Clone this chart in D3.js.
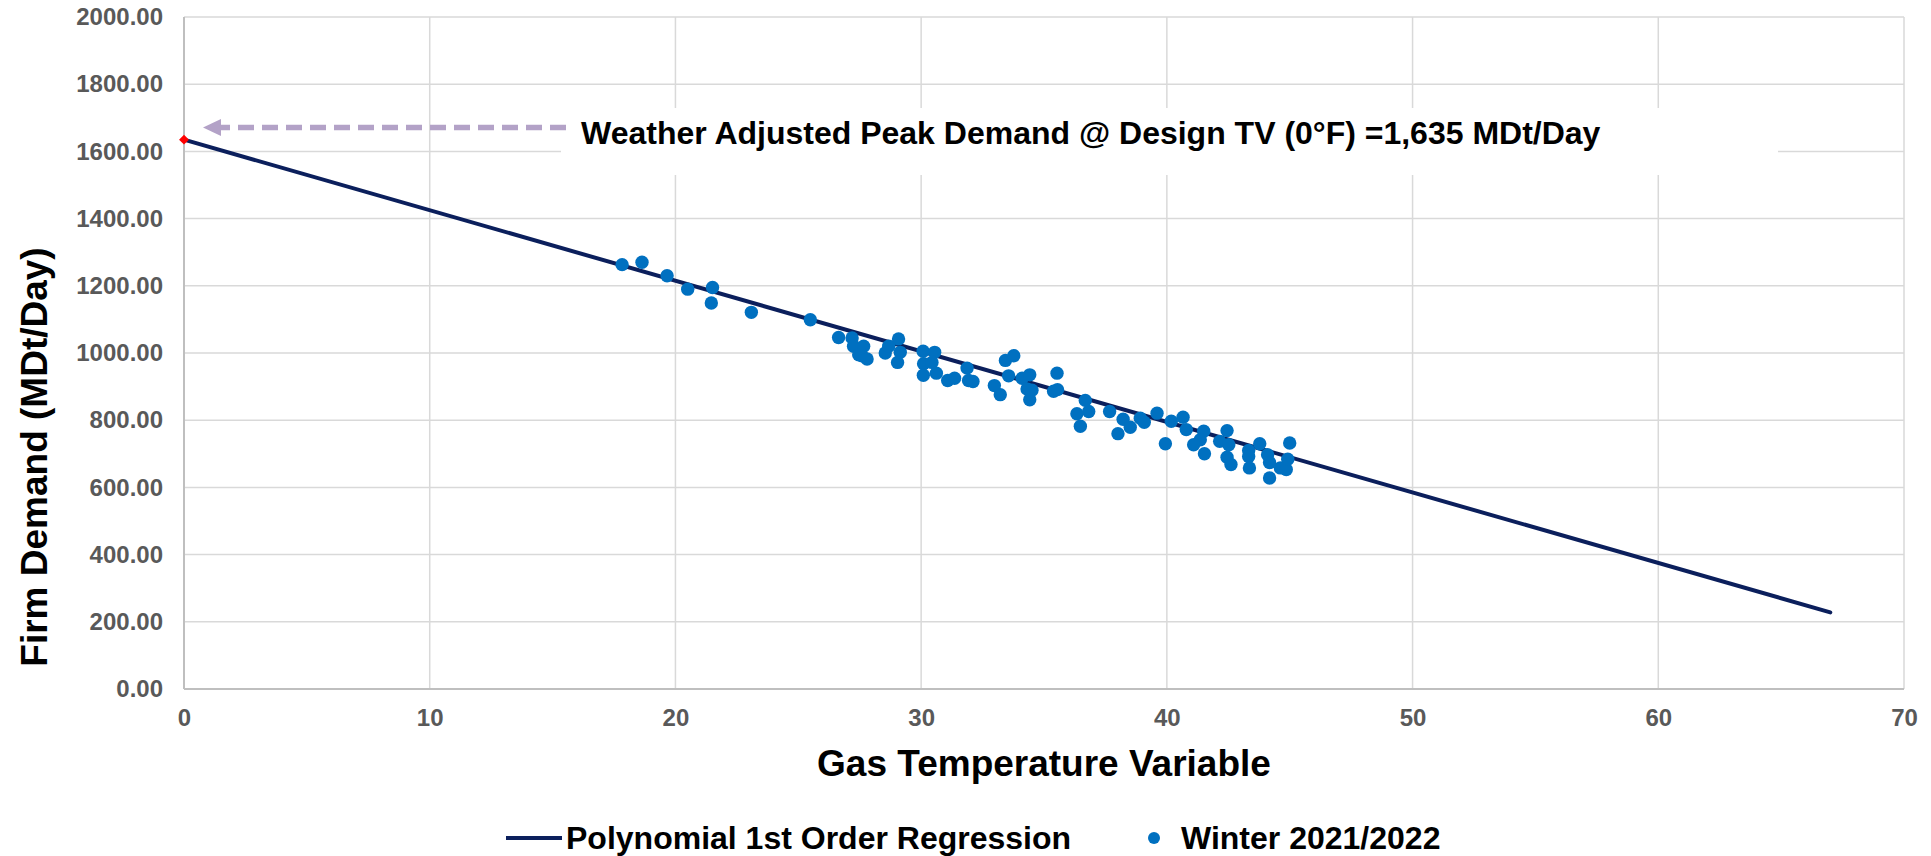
<!DOCTYPE html>
<html>
<head>
<meta charset="utf-8">
<script src="https://cdn.jsdelivr.net/npm/d3@7/dist/d3.min.js"></script>
<style>
  html, body { margin: 0; padding: 0; background: #fff; }
  text { font-family: "Liberation Sans", Arial, sans-serif; font-weight: bold; }
</style>
</head>
<body>
<svg id="chart"></svg>
<script>
// Winter 2021/2022 observations: gas temperature variable vs firm demand (MDt/Day)
var winterX = [17.83, 18.64, 19.66, 20.5, 21.51, 21.46, 23.09, 25.49, 26.64, 27.19,
  27.25, 27.46, 27.66, 27.59, 27.8, 28.54, 28.68, 29.08, 29.15, 29.04,
  30.08, 30.55, 30.1, 30.44, 30.09, 30.62, 31.08, 31.36, 31.87, 31.93,
  32.11, 32.98, 33.22, 33.43, 33.77, 33.56, 34.11, 34.42, 34.31, 34.51,
  34.42, 35.53, 35.39, 35.55, 36.68, 36.82, 36.34, 36.48, 37.67, 38.22,
  38.51, 38.01, 38.92, 39.08, 39.6, 39.94, 40.18, 40.66, 40.79, 41.5,
  41.36, 41.09, 41.53, 42.15, 42.45, 42.52, 42.45, 42.61, 43.33, 43.33,
  43.36, 43.78, 44.1, 44.18, 44.18, 44.62, 44.86, 44.92, 45.0];
var winterY = [1263, 1270, 1230, 1190, 1195, 1149, 1121, 1099, 1046, 1045,
  1020, 995, 1020, 992, 982, 1000, 1020, 1042, 1002, 972,
  1005, 1002, 968, 972, 934, 940, 918, 925, 955, 918,
  915, 903, 876, 978, 992, 932, 925, 935, 893, 889,
  861, 940, 886, 891, 859, 826, 819, 782, 826, 803,
  779, 760, 806, 794, 821, 730, 797, 809, 772, 767,
  742, 727, 700, 737, 769, 727, 690, 668, 710, 692,
  658, 730, 697, 674, 628, 658, 653, 684, 732];

// Polynomial 1st order regression end points
var trendX = [0, 67];
var trendY = [1635, 228];

var xTicks = [0, 10, 20, 30, 40, 50, 60, 70];
var yTicks = [0, 200, 400, 600, 800, 1000, 1200, 1400, 1600, 1800, 2000];

var peakValue = 1635;
var noteText = "Weather Adjusted Peak Demand @ Design TV (0\u00B0F) =1,635 MDt/Day";

var width = 1931, height = 856;
var margin = {top: 17, right: 27, bottom: 167, left: 184};

var svg = d3.select("#chart").attr("width", width).attr("height", height);

var x = d3.scaleLinear().domain([0, 70]).range([margin.left, width - margin.right]);
var y = d3.scaleLinear().domain([0, 2000]).range([height - margin.bottom, margin.top]);

// gridlines
svg.append("g")
  .selectAll("line.hg")
  .data(yTicks)
  .enter().append("line")
  .attr("x1", x(0)).attr("x2", x(70))
  .attr("y1", function(d) { return y(d); }).attr("y2", function(d) { return y(d); })
  .attr("stroke", "#d9d9d9").attr("stroke-width", 1.5);

svg.append("g")
  .selectAll("line.vg")
  .data(xTicks)
  .enter().append("line")
  .attr("x1", function(d) { return x(d); }).attr("x2", function(d) { return x(d); })
  .attr("y1", y(0)).attr("y2", y(2000))
  .attr("stroke", "#d9d9d9").attr("stroke-width", 1.5);

// axes lines
svg.append("line")
  .attr("x1", x(0)).attr("x2", x(0)).attr("y1", y(0)).attr("y2", y(2000))
  .attr("stroke", "#bfbfbf").attr("stroke-width", 2);
svg.append("line")
  .attr("x1", x(0)).attr("x2", x(70)).attr("y1", y(0)).attr("y2", y(0))
  .attr("stroke", "#bfbfbf").attr("stroke-width", 2);

// tick labels via d3 axes
var yAxis = svg.append("g")
  .attr("transform", "translate(" + x(0) + ",0)")
  .call(d3.axisLeft(y).tickValues(yTicks).tickFormat(d3.format(".2f")).tickSize(0).tickPadding(21));
var xAxis = svg.append("g")
  .attr("transform", "translate(0," + y(0) + ")")
  .call(d3.axisBottom(x).tickValues(xTicks).tickFormat(d3.format("d")).tickSize(0).tickPadding(21));

[yAxis, xAxis].forEach(function(a) {
  a.select(".domain").remove();
  a.selectAll("text")
    .attr("fill", "#595959")
    .style("font-size", "24px")
    .style("font-family", "'Liberation Sans', Arial, sans-serif")
    .style("font-weight", "bold");
});
xAxis.selectAll("text").attr("dy", "0.65em");

// annotation box (white, hides gridlines)
svg.append("rect")
  .attr("x", 561).attr("y", 108)
  .attr("width", 1217).attr("height", 67)
  .attr("fill", "#fff");

svg.append("text")
  .attr("x", 581).attr("y", 144)
  .attr("fill", "#000")
  .style("font-size", "32px")
  .text(noteText);

// dashed arrow pointing to the y axis
var arrowY = y(1671);
svg.append("line")
  .attr("x1", 566).attr("x2", x(0) + 30)
  .attr("y1", arrowY).attr("y2", arrowY)
  .attr("stroke", "#b3a2c7").attr("stroke-width", 5.5)
  .attr("stroke-dasharray", "16,8");
svg.append("path")
  .attr("d", "M" + (x(0) + 19) + "," + arrowY + " L" + (x(0) + 37) + "," + (arrowY - 8.5) +
    " L" + (x(0) + 37) + "," + (arrowY + 8.5) + " Z")
  .attr("fill", "#b3a2c7");

// regression line
var trend = trendX.map(function(d, i) { return [d, trendY[i]]; });
svg.append("path")
  .datum(trend)
  .attr("fill", "none")
  .attr("stroke", "#0b1f5c")
  .attr("stroke-width", 4)
  .attr("stroke-linecap", "round")
  .attr("d", d3.line().x(function(d) { return x(d[0]); }).y(function(d) { return y(d[1]); }));

// scatter points
svg.append("g")
  .selectAll("circle")
  .data(winterX.map(function(d, i) { return [d, winterY[i]]; }))
  .enter().append("circle")
  .attr("cx", function(d) { return x(d[0]); })
  .attr("cy", function(d) { return y(d[1]); })
  .attr("r", 6.7)
  .attr("fill", "#0070c0");

// red diamond at design peak
svg.append("path")
  .attr("transform", "translate(" + x(0) + "," + y(peakValue) + ") rotate(45)")
  .attr("d", "M-3.5,-3.5 L3.5,-3.5 L3.5,3.5 L-3.5,3.5 Z")
  .attr("fill", "#ff0000");

// axis titles
svg.append("text")
  .attr("x", (x(0) + x(70)) / 2).attr("y", 776)
  .attr("text-anchor", "middle")
  .style("font-size", "37px")
  .text("Gas Temperature Variable");

svg.append("text")
  .attr("transform", "translate(47," + 457 + ") rotate(-90)")
  .attr("text-anchor", "middle")
  .style("font-size", "37px")
  .text("Firm Demand (MDt/Day)");

// legend
var legend = svg.append("g");
legend.append("line")
  .attr("x1", 506).attr("x2", 562).attr("y1", 838).attr("y2", 838)
  .attr("stroke", "#0b1f5c").attr("stroke-width", 4);
legend.append("text")
  .attr("x", 566).attr("y", 849)
  .style("font-size", "32px")
  .text("Polynomial 1st Order Regression");
legend.append("circle")
  .attr("cx", 1154).attr("cy", 838).attr("r", 6)
  .attr("fill", "#0070c0");
legend.append("text")
  .attr("x", 1181).attr("y", 849)
  .style("font-size", "32px")
  .text("Winter 2021/2022");
</script>
</body>
</html>
